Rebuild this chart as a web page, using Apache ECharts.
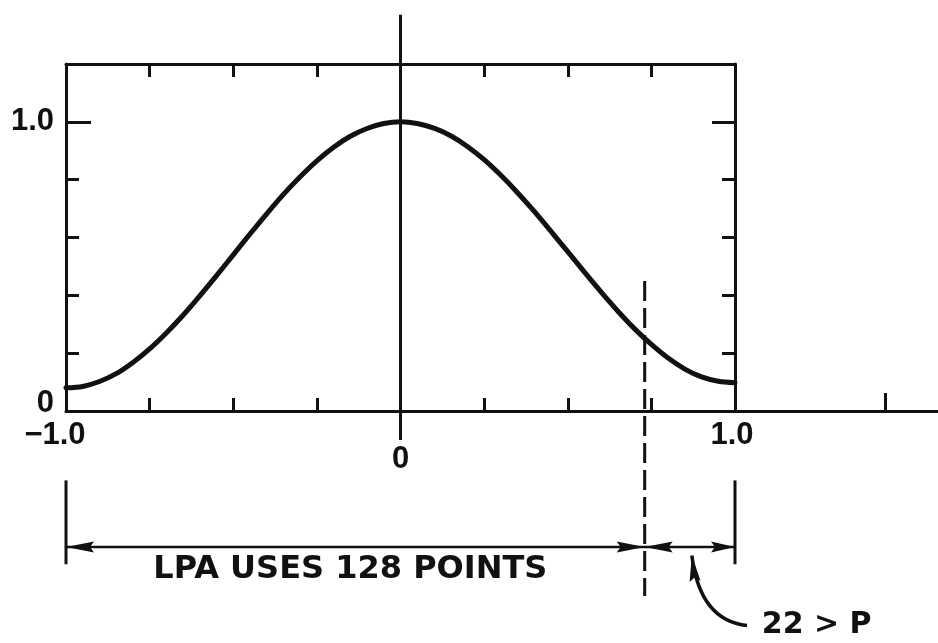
<!DOCTYPE html>
<html>
<head>
<meta charset="utf-8">
<script src="https://cdn.jsdelivr.net/npm/echarts@6/dist/echarts.min.js"></script>
<style>
  html, body { margin: 0; padding: 0; background: #fff; }
  #chart { width: 938px; height: 643px; }
</style>
</head>
<body>
<div id="chart"></div>
<script>
// Window weight w(x) across the analysis frame, sampled every 0.05
const windowX = [-1.0, -0.95, -0.9, -0.85, -0.8, -0.75, -0.7, -0.65, -0.6, -0.55, -0.5,
                 -0.45, -0.4, -0.35, -0.3, -0.25, -0.2, -0.15, -0.1, -0.05, 0.0,
                 0.05, 0.1, 0.15, 0.2, 0.25, 0.3, 0.35, 0.4, 0.45, 0.5,
                 0.55, 0.6, 0.65, 0.7, 0.75, 0.8, 0.85, 0.9, 0.95, 1.0];
const windowW = [0.080, 0.085, 0.102, 0.129, 0.168, 0.215, 0.270, 0.331, 0.398, 0.468, 0.540,
                 0.612, 0.682, 0.749, 0.810, 0.865, 0.912, 0.950, 0.977, 0.994, 1.000,
                 0.994, 0.978, 0.952, 0.915, 0.869, 0.815, 0.755, 0.690, 0.621, 0.551,
                 0.480, 0.411, 0.345, 0.284, 0.230, 0.183, 0.145, 0.118, 0.103, 0.098];

// Axis ticks and labels
const xTickValues = [-0.75, -0.5, -0.25, 0.25, 0.5, 0.75];
const xFarTick = [1.45];
const yTickValues = [0.2, 0.4, 0.6, 0.8];
const yMajorTick = [1.0];
const xLabelValues = [-1, 0, 1];
const yLabelValues = [0, 1];

// Annotations, in data units
const zeroLineSpan = [1.37, -0.10];     // vertical line through x = 0
const cutoffX = 0.73;                   // end of the LPA frame
const cutoffSpan = [0.45, -0.64];
const spanEnds = [-1, 1];
const spanBarY = [-0.24, -0.53];
const spanLineY = -0.47;
const spanLabel = 'LPA USES 128 POINTS';
const spanLabelAt = [-0.15, -0.55];
const noteLabel = '22 > P';
const noteLabelAt = [1.08, -0.74];
const noteArrow = { from: [1.036, -0.742], ctrl: [0.895, -0.725], to: [0.871, -0.50] };

const INK = '#111';
const UNIT = 334.5;                 // pixels per x unit
const PLOT_LEFT = 66, PLOT_TOP = 64, PLOT_H = 347;
const BOX_W = 2 * UNIT;
const WIDE_W = 938 - PLOT_LEFT;
const WIDE_MAX = -1 + WIDE_W / UNIT;

const numFont = { fontFamily: 'Liberation Sans', fontWeight: 'bold', fontSize: 31, color: INK };
const tickStyle = { color: INK, width: 3 };

function axisBase(extra) {
  return Object.assign({
    type: 'value',
    splitLine: { show: false },
    axisLine: { show: false, onZero: false },
    axisTick: { show: false },
    axisLabel: { show: false }
  }, extra);
}
function line(show) {
  return { show: show, onZero: false, lineStyle: { color: INK, width: 3 } };
}
function ticks(values, length) {
  return { show: true, inside: true, length: length, customValues: values, lineStyle: tickStyle };
}

const chart = echarts.init(document.getElementById('chart'), null, { renderer: 'canvas' });

chart.setOption({
  backgroundColor: '#fff',
  animation: false,
  grid: [
    { left: PLOT_LEFT, top: PLOT_TOP, width: WIDE_W, height: PLOT_H },
    { left: PLOT_LEFT, top: PLOT_TOP, width: BOX_W, height: PLOT_H },
    { left: PLOT_LEFT, top: PLOT_TOP, width: BOX_W, height: PLOT_H },
    { left: PLOT_LEFT, top: PLOT_TOP, width: WIDE_W, height: PLOT_H }
  ],
  xAxis: [
    axisBase({ gridIndex: 0, min: -1, max: WIDE_MAX, position: 'bottom',
      axisLine: line(true), axisTick: ticks(xTickValues, 13) }),
    axisBase({ gridIndex: 1, min: -1, max: 1, position: 'top',
      axisLine: line(true), axisTick: ticks(xTickValues, 13) }),
    axisBase({ gridIndex: 2, min: -1, max: 1, position: 'bottom',
      axisLabel: Object.assign({
        show: true, customValues: xLabelValues, margin: 9,
        formatter: function (v) {
          if (v === -1) return '{n|−1.0}';
          if (v === 0) return '{z|0}';
          return '{p|1.0}';
        },
        rich: {
          n: Object.assign({ padding: [0, 22, 0, 0] }, numFont),
          z: Object.assign({ padding: [24, 0, 0, 0] }, numFont),
          p: Object.assign({ padding: [0, 6, 0, 0] }, numFont)
        }
      }, numFont) }),
    axisBase({ gridIndex: 3, min: -1, max: WIDE_MAX, position: 'bottom',
      axisTick: ticks(xFarTick, 18) })
  ],
  yAxis: [
    axisBase({ gridIndex: 0, min: 0, max: 1.2, position: 'left',
      axisLine: line(true), axisTick: ticks(yMajorTick, 25),
      axisLabel: Object.assign({
        show: true, customValues: yLabelValues, margin: 12,
        formatter: function (v) { return v === 0 ? '{z|0}' : '{o|1.0}'; },
        rich: {
          z: Object.assign({ padding: [0, 0, 16, 0] }, numFont),
          o: Object.assign({}, numFont)
        }
      }, numFont) }),
    axisBase({ gridIndex: 1, min: 0, max: 1.2, position: 'right',
      axisLine: line(true), axisTick: ticks(yTickValues, 13) }),
    axisBase({ gridIndex: 2, min: 0, max: 1.2, position: 'right',
      axisTick: ticks(yMajorTick, 23) }),
    axisBase({ gridIndex: 3, min: 0, max: 1.2, position: 'left',
      axisTick: ticks(yTickValues, 13) })
  ],
  series: [{
    type: 'line',
    xAxisIndex: 1,
    yAxisIndex: 1,
    data: windowX.map(function (x, i) { return [x, windowW[i]]; }),
    smooth: 0.3,
    showSymbol: false,
    symbol: 'none',
    clip: false,
    lineStyle: { color: INK, width: 5, cap: 'round', join: 'round' }
  }]
});

// Annotation layer placed through the box grid's scales
function px(p) { return chart.convertToPixel({ gridIndex: 1 }, p); }

function seg(a, b, extra) {
  const p = px(a), q = px(b);
  return {
    type: 'line',
    shape: { x1: p[0], y1: p[1], x2: q[0], y2: q[1] },
    style: Object.assign({ stroke: INK, lineWidth: 3, lineCap: 'butt' }, extra || {}),
    silent: true
  };
}

function head(tipPx, dx, dy, len, half) {
  const n = Math.hypot(dx, dy); dx /= n; dy /= n;
  const bx = tipPx[0] - dx * len, by = tipPx[1] - dy * len;
  return {
    type: 'polygon',
    shape: { points: [
      [tipPx[0], tipPx[1]],
      [bx - dy * half, by + dx * half],
      [bx + dx * 4, by + dy * 4],
      [bx + dy * half, by - dx * half]
    ] },
    style: { fill: INK },
    silent: true
  };
}

const elems = [];
elems.push(seg([0, zeroLineSpan[0]], [0, zeroLineSpan[1]]));
elems.push(seg([cutoffX, cutoffSpan[0]], [cutoffX, cutoffSpan[1]], { lineDash: [20, 7] }));
spanEnds.forEach(function (x) { elems.push(seg([x, spanBarY[0]], [x, spanBarY[1]])); });
elems.push(seg([spanEnds[0], spanLineY], [spanEnds[1], spanLineY], { lineWidth: 2.5 }));
elems.push(head(px([spanEnds[0], spanLineY]), -1, 0, 28, 5.5));
elems.push(head(px([cutoffX, spanLineY]), 1, 0, 28, 5.5));
elems.push(head(px([cutoffX, spanLineY]), -1, 0, 28, 5.5));
elems.push(head(px([spanEnds[1], spanLineY]), 1, 0, 24, 5.5));

const a0 = px(noteArrow.from), ac = px(noteArrow.ctrl), a1 = px(noteArrow.to);
elems.push({
  type: 'bezierCurve',
  shape: { x1: a0[0], y1: a0[1], x2: a1[0], y2: a1[1], cpx1: ac[0], cpy1: ac[1] },
  style: { stroke: INK, lineWidth: 3.5, fill: null },
  silent: true
});
elems.push(head(a1, a1[0] - ac[0], a1[1] - ac[1], 26, 5.5));

const sl = px(spanLabelAt);
elems.push({
  type: 'text', silent: true,
  style: { text: spanLabel, x: sl[0], y: sl[1], fill: INK,
    font: 'bold 32px "DejaVu Sans"', align: 'center', verticalAlign: 'middle',
    textAlign: 'center', textVerticalAlign: 'middle' }
});
const nl = px(noteLabelAt);
elems.push({
  type: 'text', silent: true,
  style: { text: noteLabel, x: nl[0], y: nl[1], fill: INK,
    font: 'bold 30px "DejaVu Sans"', align: 'left', verticalAlign: 'middle',
    textAlign: 'left', textVerticalAlign: 'middle' }
});

chart.setOption({ graphic: { elements: elems } });
</script>
</body>
</html>
